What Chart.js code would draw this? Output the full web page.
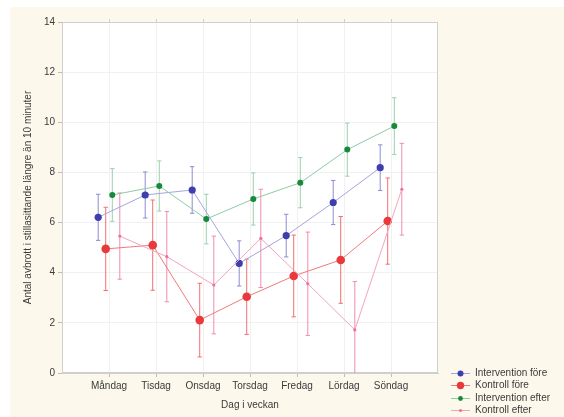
<!DOCTYPE html>
<html>
<head>
<meta charset="utf-8">
<script src="https://cdn.jsdelivr.net/npm/chart.js@4/dist/chart.umd.min.js"></script>
<style>
html,body{margin:0;padding:0;background:#fff;}
#wrap{position:relative;width:564px;height:417px;}
</style>
</head>
<body>
<div id="wrap"><canvas id="c" width="564" height="417"></canvas></div>
<script>
const categories = ["Måndag","Tisdag","Onsdag","Torsdag","Fredag","Lördag","Söndag"];
const seriesNames = ["Intervention före","Kontroll före","Intervention efter","Kontroll efter"];
const yTicks = [0,2,4,6,8,10,12,14];

const interventionFore    = [6.21, 7.10, 7.30, 4.37, 5.48, 6.80, 8.19];
const interventionForeErr = [0.92, 0.92, 0.93, 0.90, 0.85, 0.88, 0.91];
const kontrollFore        = [4.95, 5.10, 2.11, 3.04, 3.87, 4.51, 6.06];
const kontrollForeErr     = [1.66, 1.80, 1.47, 1.50, 1.63, 1.73, 1.72];
const interventionEfter    = [7.10, 7.46, 6.14, 6.94, 7.59, 8.91, 9.85];
const interventionEfterErr = [1.05, 1.00, 0.99, 1.04, 1.00, 1.06, 1.13];
const kontrollEfter        = [5.46, 4.64, 3.51, 5.37, 3.56, 1.72, 7.33];
const kontrollEfterErr     = [1.72, 1.80, 1.95, 1.96, 2.06, 1.93, 1.83];

const styles = [
  {offset:-0.23, marker:'#3e3eae', line:'#a4a4e2', err:'#8c8cd4', r:3.6},
  {offset:-0.07, marker:'#e8393c', line:'#f07a7a', err:'#f07070', r:4.3},
  {offset: 0.07, marker:'#17893b', line:'#8ccda4', err:'#9ccfae', r:3.0},
  {offset: 0.23, marker:'#f0709c', line:'#f4a4bc', err:'#f08cb0', r:1.6}
];
const means = [interventionFore, kontrollFore, interventionEfter, kontrollEfter];
const errs  = [interventionForeErr, kontrollForeErr, interventionEfterErr, kontrollEfterErr];

const datasets = [];
means.forEach((m, s) => {
  const st = styles[s];
  datasets.push({
    label: seriesNames[s],
    data: m.map((v, i) => ({x: i + 1 + st.offset, y: v})),
    showLine: true,
    borderColor: st.line,
    borderWidth: 1,
    backgroundColor: st.marker,
    pointBackgroundColor: st.marker,
    pointBorderColor: st.marker,
    pointRadius: st.r,
    pointBorderWidth: 0,
    tension: 0,
    order: 10 - s
  });
  const eb = [];
  m.forEach((v, i) => {
    const x = i + 1 + st.offset;
    eb.push({x: x, y: v - errs[s][i]});
    eb.push({x: x, y: v + errs[s][i]});
    eb.push({x: x, y: null});
  });
  datasets.push({
    label: 'err' + s,
    data: eb,
    showLine: true,
    spanGaps: false,
    borderColor: st.err,
    borderWidth: 1,
    pointStyle: 'line',
    pointRadius: 2.2,
    pointBorderColor: st.err,
    pointBorderWidth: 1,
    order: 20 - s
  });
});

const bgPlugin = {
  id: 'bg',
  beforeDraw(chart) {
    const ctx = chart.ctx, a = chart.chartArea;
    ctx.save();
    ctx.fillStyle = '#ffffff';
    ctx.fillRect(0, 0, chart.width, chart.height);
    ctx.fillStyle = '#fcf8ec';
    ctx.fillRect(10, 7, chart.width - 10, chart.height - 7);
    ctx.fillStyle = '#ffffff';
    ctx.fillRect(a.left, a.top, a.right - a.left, a.bottom - a.top);
    ctx.restore();
  },
  beforeDatasetsDraw(chart) {
    const ctx = chart.ctx, a = chart.chartArea;
    ctx.save();
    ctx.strokeStyle = '#cfcfcf';
    ctx.lineWidth = 1;
    ctx.strokeRect(a.left + 0.5, a.top + 0.5, a.right - a.left - 1, a.bottom - a.top - 1);
    // top ticks
    const xs = chart.scales.x;
    ctx.beginPath();
    for (let i = 1; i <= 7; i++) {
      const px = Math.round(xs.getPixelForValue(i)) + 0.5;
      ctx.moveTo(px, a.top - 3); ctx.lineTo(px, a.top);
    }
    ctx.stroke();
    ctx.restore();
  },
  afterDraw(chart) {
    const ctx = chart.ctx;
    ctx.save();
    ctx.font = '10px "Liberation Sans", Arial, sans-serif';
    ctx.textBaseline = 'middle';
    seriesNames.forEach((name, s) => {
      const y = 373 + s * 12.4;
      const st = styles[s];
      ctx.strokeStyle = st.line;
      ctx.lineWidth = 1;
      ctx.beginPath(); ctx.moveTo(451, Math.round(y) + 0.5); ctx.lineTo(470, Math.round(y) + 0.5); ctx.stroke();
      ctx.fillStyle = st.marker;
      ctx.beginPath(); ctx.arc(460.5, Math.round(y) + 0.5, Math.max(st.r - 0.6, 1.6), 0, Math.PI * 2); ctx.fill();
      ctx.fillStyle = '#3a3a3a';
      ctx.fillText(name, 475, y);
    });
    ctx.restore();
  }
};

new Chart(document.getElementById('c'), {
  type: 'scatter',
  data: { datasets },
  plugins: [bgPlugin],
  options: {
    responsive: false,
    animation: false,
    events: [],
    layout: { padding: { top: 22, right: 126, bottom: 0, left: 0 } },
    plugins: { legend: { display: false }, tooltip: { enabled: false } },
    scales: {
      x: {
        type: 'linear', min: 0, max: 8,
        afterBuildTicks(scale) { scale.ticks = categories.map((c, i) => ({value: i + 1})); },
        afterFit(scale) { scale.height = 44; },
        ticks: {
          callback: (v) => categories[v - 1] || '',
          color: '#3a3a3a', font: { family: '"Liberation Sans", Arial, sans-serif', size: 10 },
          padding: 3, maxRotation: 0, autoSkip: false
        },
        grid: { color: '#f1f1f1', tickColor: '#bdbdbd', tickLength: 4 },
        border: { color: '#cfcfcf' },
        title: { display: true, text: 'Dag i veckan', color: '#3a3a3a',
                 font: { family: '"Liberation Sans", Arial, sans-serif', size: 10 },
                 padding: { top: 0, bottom: 6 } }
      },
      y: {
        type: 'linear', min: 0, max: 14,
        afterBuildTicks(scale) { scale.ticks = yTicks.map(v => ({value: v})); },
        afterFit(scale) { scale.width = 62; },
        ticks: {
          color: '#3a3a3a', font: { family: '"Liberation Sans", Arial, sans-serif', size: 10 },
          padding: 3
        },
        grid: { color: '#f1f1f1', tickColor: '#bdbdbd', tickLength: 4 },
        border: { color: '#cfcfcf' },
        title: { display: true, text: 'Antal avbrott i stillasittande längre än 10 minuter', color: '#3a3a3a',
                 font: { family: '"Liberation Sans", Arial, sans-serif', size: 10 },
                 padding: { top: 22, bottom: 0 } }
      }
    }
  }
});
</script>
</body>
</html>
